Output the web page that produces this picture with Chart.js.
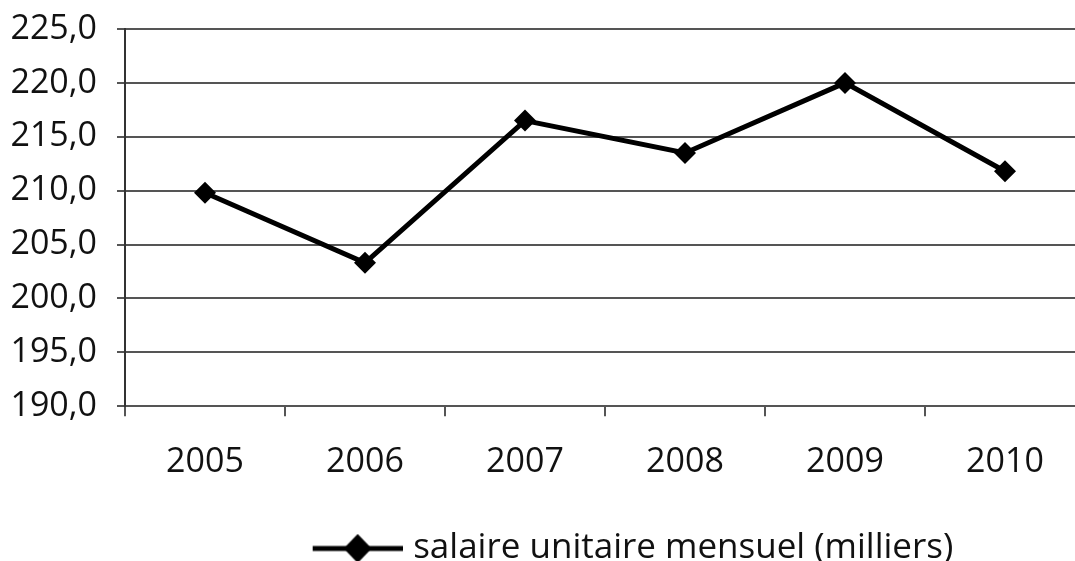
<!DOCTYPE html>
<html>
<head>
<meta charset="utf-8">
<script src="https://cdn.jsdelivr.net/npm/chart.js@4"></script>
<style>
  html, body { margin: 0; padding: 0; background: #fff; overflow: hidden; }
  #wrap { width: 1100px; height: 576px; }
</style>
</head>
<body>
<div id="wrap"><canvas id="my-chart"></canvas></div>
<script>
'use strict';

//***********Data***********
let years = ['2005', '2006', '2007', '2008', '2009', '2010'];
let salaire = [209.8, 203.3, 216.5, 213.5, 220.0, 211.8];
let seriesName = 'salaire unitaire mensuel (milliers)';
let yMin = 190;
let yMax = 225;
let yStep = 5;

let fontFamily = '"Open Sans", "Noto Sans", sans-serif';
let textColor = '#111';

// legend symbol: line with a diamond in the middle (drawn on the right part of the image)
let legendBoxWidth = 264;
function makeLegendSymbol() {
  let c = document.createElement('canvas');
  c.width = 278;
  c.height = 30;
  let g = c.getContext('2d');
  let x0 = 188, x1 = 278, mid = (x0 + x1) / 2;
  g.strokeStyle = '#000';
  g.lineWidth = 5;
  g.beginPath();
  g.moveTo(x0, 15);
  g.lineTo(x1, 15);
  g.stroke();
  g.fillStyle = '#000';
  g.beginPath();
  g.moveTo(mid, 0.5);
  g.lineTo(mid + 14, 15);
  g.lineTo(mid, 29.5);
  g.lineTo(mid - 14, 15);
  g.closePath();
  g.fill();
  return c;
}
let legendSymbol = makeLegendSymbol();

let ctx = document.getElementById('my-chart').getContext('2d');

new Chart(ctx, {
  type: 'line',
  data: {
    labels: years,
    datasets: [{
      label: seriesName,
      data: salaire,
      borderColor: '#000',
      backgroundColor: '#000',
      borderWidth: 5,
      pointStyle: 'rectRot',
      pointRadius: 11,
      pointBackgroundColor: '#000',
      pointBorderWidth: 0,
      tension: 0
    }]
  },
  options: {
    responsive: true,
    maintainAspectRatio: false,
    animation: false,
    layout: {
      padding: { top: 29, right: 15, left: 0, bottom: 0 }
    },
    plugins: {
      tooltip: { enabled: false },
      legend: {
        position: 'bottom',
        labels: {
          usePointStyle: true,
          pointStyleWidth: legendBoxWidth,
          color: textColor,
          font: { family: fontFamily, size: 35 },
          padding: 10,
          generateLabels: function () {
            return [{
              text: seriesName,
              pointStyle: legendSymbol,
              fillStyle: '#000',
              strokeStyle: '#000',
              lineWidth: 0,
              datasetIndex: 0,
              fontColor: textColor
            }];
          }
        }
      }
    },
    scales: {
      x: {
        offset: true,
        grid: {
          display: true,
          offset: true,
          drawOnChartArea: false,
          drawTicks: true,
          tickLength: 10,
          color: '#555',
          lineWidth: 2
        },
        border: { display: true, color: '#555', width: 2 },
        ticks: {
          color: textColor,
          font: { family: fontFamily, size: 34 },
          padding: 26,
          maxRotation: 0
        },
        afterFit: function (scale) {
          scale.height += 12;
        }
      },
      y: {
        min: yMin,
        max: yMax,
        ticks: {
          stepSize: yStep,
          color: textColor,
          font: { family: fontFamily, size: 34 },
          padding: 20,
          callback: function (v) { return v.toFixed(1).replace('.', ','); }
        },
        grid: {
          color: '#555',
          lineWidth: 2,
          tickLength: 8
        },
        border: { display: true, color: '#333', width: 2 },
        afterFit: function (scale) {
          scale.width = 125;
          scale.paddingTop = 0;
          scale.paddingBottom = 0;
        }
      }
    }
  }
});
</script>
</body>
</html>
